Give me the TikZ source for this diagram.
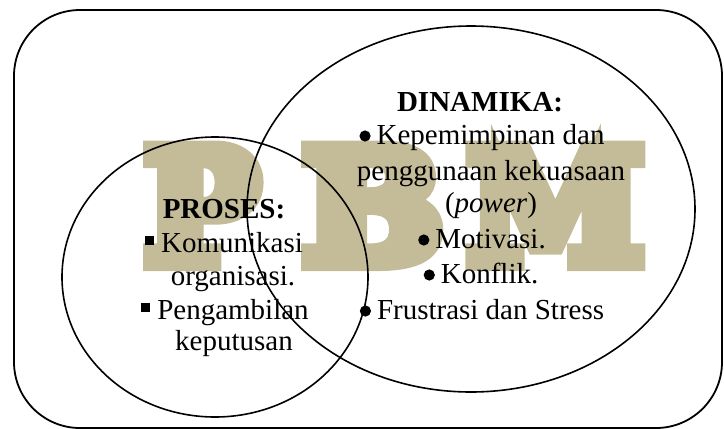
\documentclass[tikz,border=0pt]{standalone}
\usepackage{fontspec}
\setmainfont{Liberation Serif}
\newfontfamily\slabfont[FakeBold=12]{DejaVu Serif Bold}
\usepackage{graphicx}
\definecolor{pbmtan}{RGB}{196,188,152}
\tikzset{
  txt/.style={anchor=base, inner sep=0pt, font=\fontsize{29pt}{34.8pt}\selectfont},
  big/.style={anchor=south west, inner sep=0pt, text=pbmtan},
  outline/.style={draw=black, line width=1.8pt},
  venn/.style={draw=black, line width=1.6pt}
}
\newcommand{\sqbul}{\rule[7pt]{9pt}{9pt}\hspace{7pt}}
\newcommand{\rdbul}{\tikz[x=1pt,y=1pt,baseline=0pt]{\path (0,0) rectangle (11,1); \fill[black] (5.5,8) circle[radius=5.6pt];}\hspace{6pt}}
\begin{document}
\begin{tikzpicture}[x=1pt, y=-1pt]
\useasboundingbox (0,0) rectangle (724,429);
% big background letters
\node[big] (bigP) at (145,262) {\resizebox{113pt}{112pt}{\slabfont P}};
\node[big] (bigB) at (303,262) {\resizebox{139pt}{112pt}{\slabfont B}};
\node[big] (bigM) at (468,262) {\resizebox{175pt}{112pt}{\slabfont M}};
% frame
\draw[outline, rounded corners=66pt] (14,10) rectangle (722,428);
% ellipses
\draw[venn] (471,209) ellipse [x radius=224pt, y radius=183pt];
\draw[venn] (215,277) ellipse [x radius=153pt, y radius=140pt];
% PROSES
\node[txt] (proses) at (224,218) {\bfseries PROSES:};
\node[txt] (p1) at (224,252) {\sqbul Komunikasi};
\node[txt] (p2) at (233,285) {organisasi.};
\node[txt] (p3) at (225,319) {\sqbul Pengambilan};
\node[txt] (p4) at (234,350) {keputusan};
% DINAMIKA
\node[txt] (din) at (480,111) {\bfseries DINAMIKA:};
\node[txt] (d1) at (482,144) {\rdbul Kepemimpinan dan};
\node[txt] (d2) at (491,180) {penggunaan kekuasaan};
\node[txt] (d3) at (491,212) {(\textit{power})};
\node[txt] (d4) at (482,248) {\rdbul Motivasi.};
\node[txt] (d5) at (481,283) {\rdbul Konflik.};
\node[txt] (d6) at (482,319) {\rdbul Frustrasi dan Stress};
\end{tikzpicture}
\end{document}
